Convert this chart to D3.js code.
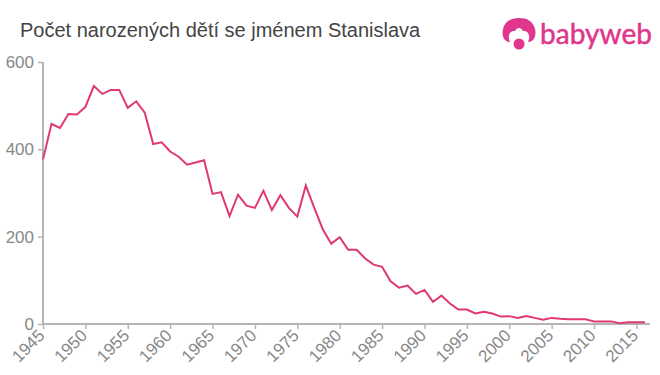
<!DOCTYPE html>
<html>
<head>
<meta charset="utf-8">
<script src="https://cdnjs.cloudflare.com/ajax/libs/d3/7.8.5/d3.min.js"></script>
<style>
    html, body { margin:0; padding:0; background:#fff; }
    svg { display:block; }
    text { font-family:"Liberation Sans", Arial, sans-serif; }
</style>
</head>
<body>
<div id="content"></div>
<script>
const titleText = "Počet narozených dětí se jménem Stanislava";
const logoText = "babyweb";

const years = d3.range(1945, 2017);
const births = [
    377, 458, 449, 481, 480, 497, 545, 527, 536, 536,
    495, 510, 484, 412, 416, 395, 383, 365, 370, 375,
    298, 302, 247, 296, 271, 266, 305, 261, 295, 266,
    246, 317, 266, 217, 184, 199, 170, 170, 150, 136,
    131, 98, 83, 88, 69, 78, 51, 65, 47, 33,
    33, 24, 28, 24, 17, 18, 14, 18, 14, 10,
    14, 12, 11, 11, 11, 6, 6, 6, 2, 4,
    4, 4
];
const xTicks = d3.range(1945, 2016, 5);
const yTicks = [0, 200, 400, 600];

const W = 660, H = 375;
const margin = { left:43, right:10, top:62, bottom:51 };
const iW = W - margin.left - margin.right;
const iH = H - margin.top - margin.bottom;

const xScale = d3.scaleLinear().domain([1945, 2016.6]).range([0, iW]);
const yScale = d3.scaleLinear().domain([0, 600]).range([iH, 0]);

const svg = d3.select("#content")
    .append("svg")
    .attr("width", W)
    .attr("height", H);

svg.append("text")
    .attr("x", 20)
    .attr("y", 37)
    .attr("font-size", 20)
    .attr("fill", "#444")
    .text(titleText);

const diagram = svg.append("g")
    .attr("transform", "translate(" + margin.left + "," + margin.top + ")");

const xAxis = diagram.append("g")
    .attr("transform", "translate(0," + iH + ")")
    .call(d3.axisBottom(xScale).tickValues(xTicks).tickFormat(d3.format("d")).tickSize(5).tickPadding(3));

xAxis.selectAll("text")
    .attr("font-size", 17)
    .attr("fill", "#888")
    .attr("text-anchor", "end")
    .attr("dx", "-7.3")
    .attr("dy", "2.4")
    .attr("transform", "rotate(-45)");

const yAxis = diagram.append("g")
    .call(d3.axisLeft(yScale).tickValues(yTicks).tickSize(5).tickPadding(4));

yAxis.selectAll("text")
    .attr("font-size", 17)
    .attr("fill", "#888");

diagram.selectAll(".domain, .tick line")
    .attr("stroke", "#b5b5b5")
    .attr("stroke-width", 2);
diagram.selectAll(".tick line").attr("stroke-width", 1.5);
xAxis.select(".domain").attr("d", "M0,0H" + iW);
yAxis.select(".domain").attr("d", "M0,0V" + iH);

const lineGenerator = d3.line()
    .x((d, i) => xScale(years[i]))
    .y(d => yScale(d));

diagram.append("path")
    .attr("d", lineGenerator(births))
    .attr("fill", "none")
    .attr("stroke", "#e0396b")
    .attr("stroke-width", 2)
    .attr("stroke-linejoin", "miter");

// logo: baby head with hair, plus wordmark
const logo = svg.append("g").attr("transform", "translate(519,33)");
logo.append("path")
    .attr("d", "M-9,9 C-17,9 -17,-1 -16,-4 C-14,-12 -8,-15 0,-15 C8,-15 14,-12 16,-4 C17,-1 17,9 9,9 C12,3 9,-3 4,-2 C2,-6 -2,-6 -4,-2 C-9,-3 -12,3 -9,9 Z")
    .attr("fill", "#e0368c");
logo.append("circle").attr("cy", 11).attr("r", 5.5).attr("fill", "#e0368c");
svg.append("text")
    .attr("x", 540)
    .attr("y", 44)
    .attr("font-size", 28)
    .attr("fill", "#e0368c")
    .attr("stroke", "#e0368c")
    .attr("stroke-width", 0.5)
    .attr("textLength", 112)
    .style("font-family", "Lato, 'Open Sans', sans-serif")
    .text(logoText);
</script>
</body>
</html>
